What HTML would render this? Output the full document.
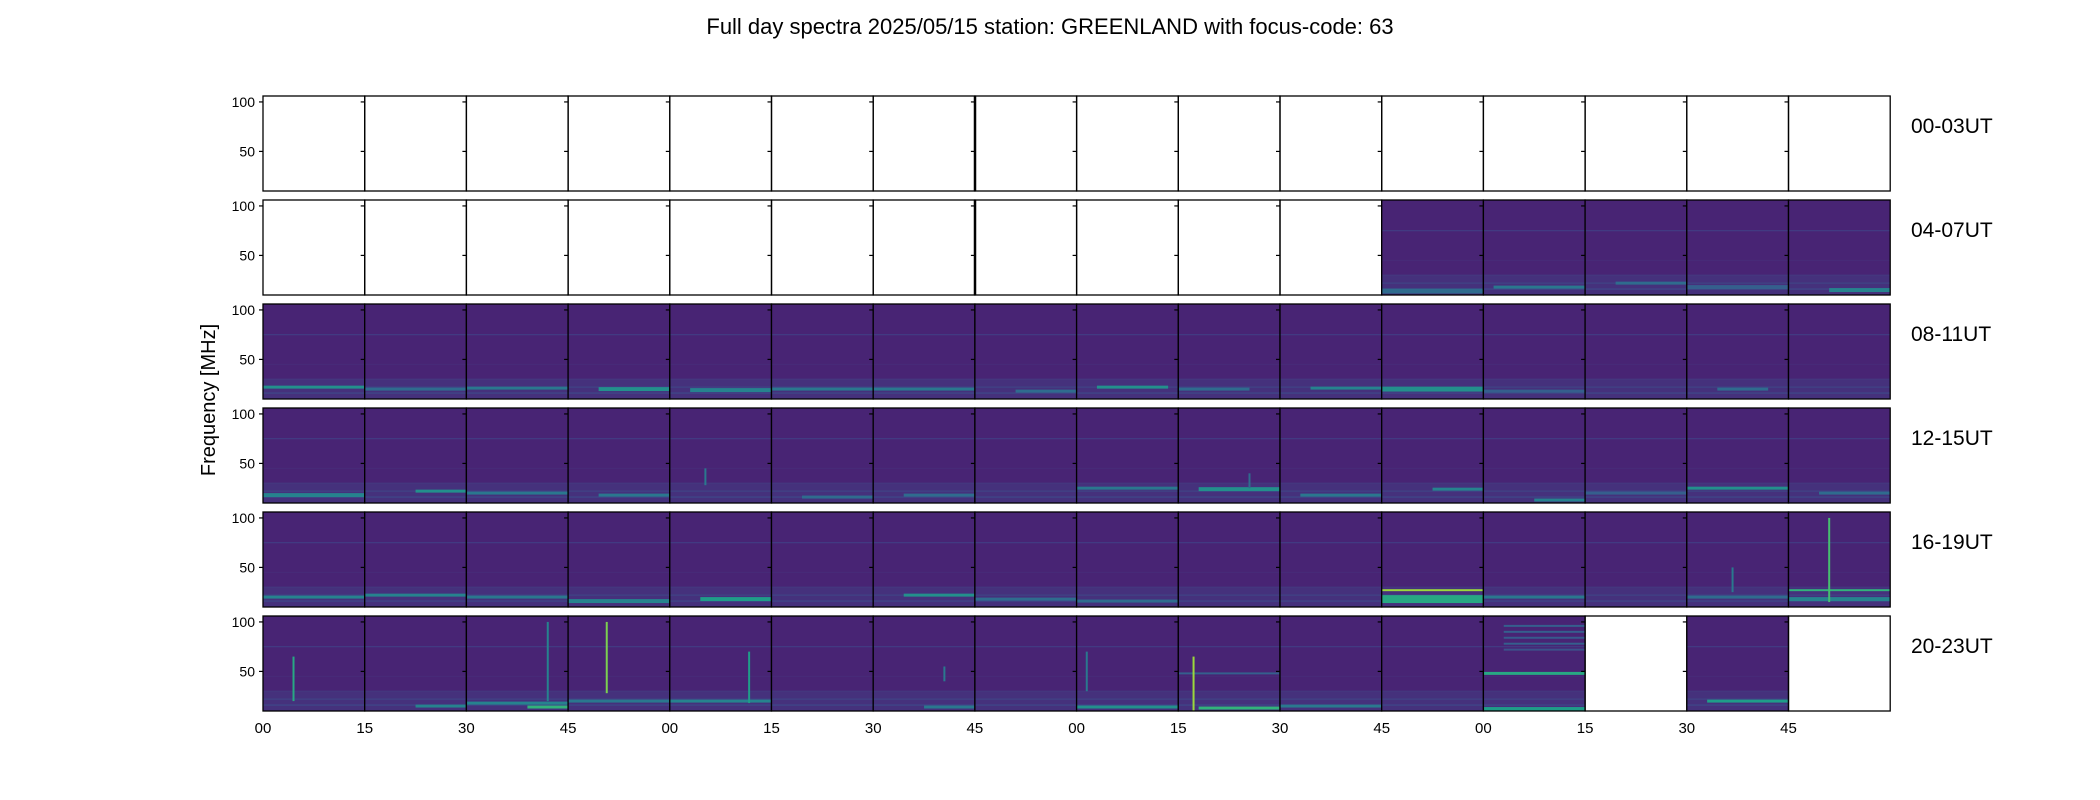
<!DOCTYPE html>
<html><head><meta charset="utf-8"><style>
body{margin:0;background:#fff;}
svg{display:block;font-family:"Liberation Sans","DejaVu Sans",sans-serif;}
</style></head><body>
<svg id="fig" width="2100" height="800" viewBox="0 0 2100 800">
<text x="1050" y="34" text-anchor="middle" font-size="22">Full day spectra 2025/05/15 station: GREENLAND with focus-code: 63</text>
<text transform="translate(215,400) rotate(-90)" text-anchor="middle" font-size="20">Frequency [MHz]</text>
<g id="panels"></g>
<line x1="975" x2="975" y1="96" y2="191" stroke="#000" stroke-width="2.5"/>
<line x1="975" x2="975" y1="200" y2="295" stroke="#000" stroke-width="2.5"/>
</svg>
<script>
// ---- data ----
const rowLabels = ["00-03UT","04-07UT","08-11UT","12-15UT","16-19UT","20-23UT"];
const xTickLabels = ["00","15","30","45","00","15","30","45","00","15","30","45","00","15","30","45"];
const yTicks = [50, 100];
// 1 = spectrum available, 0 = empty panel (row-major, 16 per row)
const hasData = [
0,0,0,0,0,0,0,0,0,0,0,0,0,0,0,0,
0,0,0,0,0,0,0,0,0,0,0,1,1,1,1,1,
1,1,1,1,1,1,1,1,1,1,1,1,1,1,1,1,
1,1,1,1,1,1,1,1,1,1,1,1,1,1,1,1,
1,1,1,1,1,1,1,1,1,1,1,1,1,1,1,1,
1,1,1,1,1,1,1,1,1,1,1,1,1,0,1,0];
// common RFI lines present in every spectrum: [freq MHz, value 0..1]
const commonLines = [[75,0.18],[66,0.1],[45,0.12],[30,0.16],[22,0.2],[16,0.22]];
// horizontal bands: [panel, freq, width MHz, x0, x1, value]
const bands = [
[27,14,5,0,1,0.35],[28,18,3,0.1,1,0.4],[29,22,3,0.3,1,0.35],[30,18,4,0,1,0.3],[31,15,4,0.4,1,0.45],
[32,22,3,0,1,0.5],[33,20,3,0,1,0.35],[34,21,3,0,1,0.4],[35,20,4,0.3,1,0.5],[36,19,4,0.2,1,0.45],
[37,20,3,0,1,0.4],[38,20,3,0,1,0.4],[39,18,3,0.4,1,0.35],[40,22,3,0.2,0.9,0.5],[41,20,3,0,0.7,0.35],
[42,21,3,0.3,1,0.45],[43,20,5,0,1,0.5],[44,18,3,0,1,0.3],[46,20,3,0.3,0.8,0.35],
[48,18,4,0,1,0.45],[49,22,3,0.5,1,0.5],[50,20,3,0,1,0.4],[51,18,3,0.3,1,0.4],[53,16,3,0.3,1,0.35],
[54,18,3,0.3,1,0.35],[56,25,3,0,1,0.4],[57,24,4,0.2,1,0.5],[58,18,3,0.2,1,0.4],[59,24,3,0.5,1,0.45],
[60,13,3,0.5,1,0.45],[61,20,3,0,1,0.3],[62,25,3,0,1,0.5],[63,20,3,0.3,1,0.35],
[64,20,3,0,1,0.45],[65,22,3,0,1,0.45],[66,20,3,0,1,0.4],[67,16,4,0,1,0.45],[68,18,4,0.3,1,0.55],
[70,22,3,0.3,1,0.5],[71,18,3,0,1,0.35],[72,16,3,0,1,0.35],[75,20,3,0,1,0.35],
[75,27,2,0,1,0.85],[75,18,8,0,1,0.6],[76,20,3,0,1,0.4],[78,20,3,0,1,0.35],
[79,27,2,0,1,0.65],[79,18,4,0,1,0.45],
[81,15,3,0.5,1,0.45],[82,18,3,0,1,0.45],[82,14,3,0.6,1,0.65],[83,20,3,0,1,0.4],[84,20,3,0,1,0.45],
[86,14,3,0.5,1,0.4],[88,14,3,0,1,0.5],[89,13,3,0.2,1,0.65],[89,48,2,0,1,0.3],
[90,15,3,0,1,0.4],[92,12,4,0,1,0.55],[92,48,3,0,1,0.6],
[92,96,2,0.2,1,0.3],[92,90,2,0.2,1,0.3],[92,84,2,0.2,1,0.28],[92,78,2,0.2,1,0.3],[92,72,2,0.2,1,0.25],
[94,20,3,0.2,1,0.55]];
// vertical bursts: [panel, xfrac, fLow, fHigh, value]
const bursts = [
[79,0.4,15,100,0.7],[78,0.45,25,50,0.4],[52,0.35,28,45,0.4],[57,0.7,25,40,0.35],
[80,0.3,20,65,0.6],[82,0.8,20,100,0.45],[83,0.38,28,100,0.8],[84,0.78,18,70,0.55],
[86,0.7,40,55,0.4],[89,0.15,10,65,0.85],[88,0.1,30,70,0.4]];

// ---- layout ----
const L=263, T=96, PW=101.7, PH=95, RP=104, FMIN=10, FMAX=106;
const ns="http://www.w3.org/2000/svg";
const root=document.getElementById('panels');
function yS(f){return PH*(FMAX-f)/(FMAX-FMIN);}
function viridis(t){
  const s=[[68,1,84],[72,40,120],[62,74,137],[49,104,142],[38,130,142],[31,158,137],[53,183,121],[109,205,89],[180,222,44],[253,231,37]];
  t=Math.max(0,Math.min(1,t))*(s.length-1);const i=Math.min(s.length-2,Math.floor(t)),u=t-i;
  const c=s[i].map((v,k)=>Math.round(v+(s[i+1][k]-v)*u));return `rgb(${c})`;}
function mk(tag,attrs,parent){const e=document.createElementNS(ns,tag);for(const k in attrs)e.setAttribute(k,attrs[k]);parent.appendChild(e);return e;}

for(let p=0;p<96;p++){
  const r=Math.floor(p/16),c=p%16,x=L+c*PW,y=T+r*RP;
  const g=mk('g',{transform:`translate(${x},${y})`},root);
  
  
  if(hasData[p]){
    const bg=mk('rect',{x:0,y:0,width:PW,height:PH,fill:viridis(0.1)},g);
    
    
    const lowb=mk('rect',{x:0,y:yS(30),width:PW,height:PH-yS(30),fill:viridis(0.14)},g);
    
    
    commonLines.forEach(cl=>{
      const e=mk('rect',{x:0,y:yS(cl[0]+0.6),width:PW,height:1.2,fill:viridis(cl[1])},g);
      
      
    });
  }
  bands.filter(b=>b[0]===p).forEach(b=>{
    const e=mk('rect',{x:b[3]*PW,y:yS(b[1]+b[2]/2),width:(b[4]-b[3])*PW,height:Math.max(1,PH*b[2]/(FMAX-FMIN)),fill:viridis(b[5])},g);
    
    
  });
  bursts.filter(b=>b[0]===p).forEach(b=>{
    const e=mk('rect',{x:b[1]*PW-1,y:yS(b[3]),width:2,height:yS(b[2])-yS(b[3]),fill:viridis(b[4])},g);
    
    
  });
  const fr=mk('rect',{x:0,y:0,width:PW,height:PH,fill:'none',stroke:'#000','stroke-width':1.3},g);
  
  
  yTicks.forEach(v=>{
    const t=mk('line',{x1:-4,x2:0,y1:yS(v),y2:yS(v),stroke:'#000','stroke-width':1.2},g);
    
    
    if(c===0){
      const tl=mk('text',{x:-8,y:yS(v)+5,'text-anchor':'end','font-size':14},g);
      tl.textContent=v;
      
      
    }
  });
  if(r===5){
    const tl=mk('text',{x:0,y:PH+22,'text-anchor':'middle','font-size':15},g);
    tl.textContent=xTickLabels[c];
    
    
  }
}
rowLabels.forEach((s,r)=>{
  const t=mk('text',{x:1911,y:T+r*RP+37,'font-size':21},root);
  t.textContent=s;
  
  
});
</script>
</body></html>
